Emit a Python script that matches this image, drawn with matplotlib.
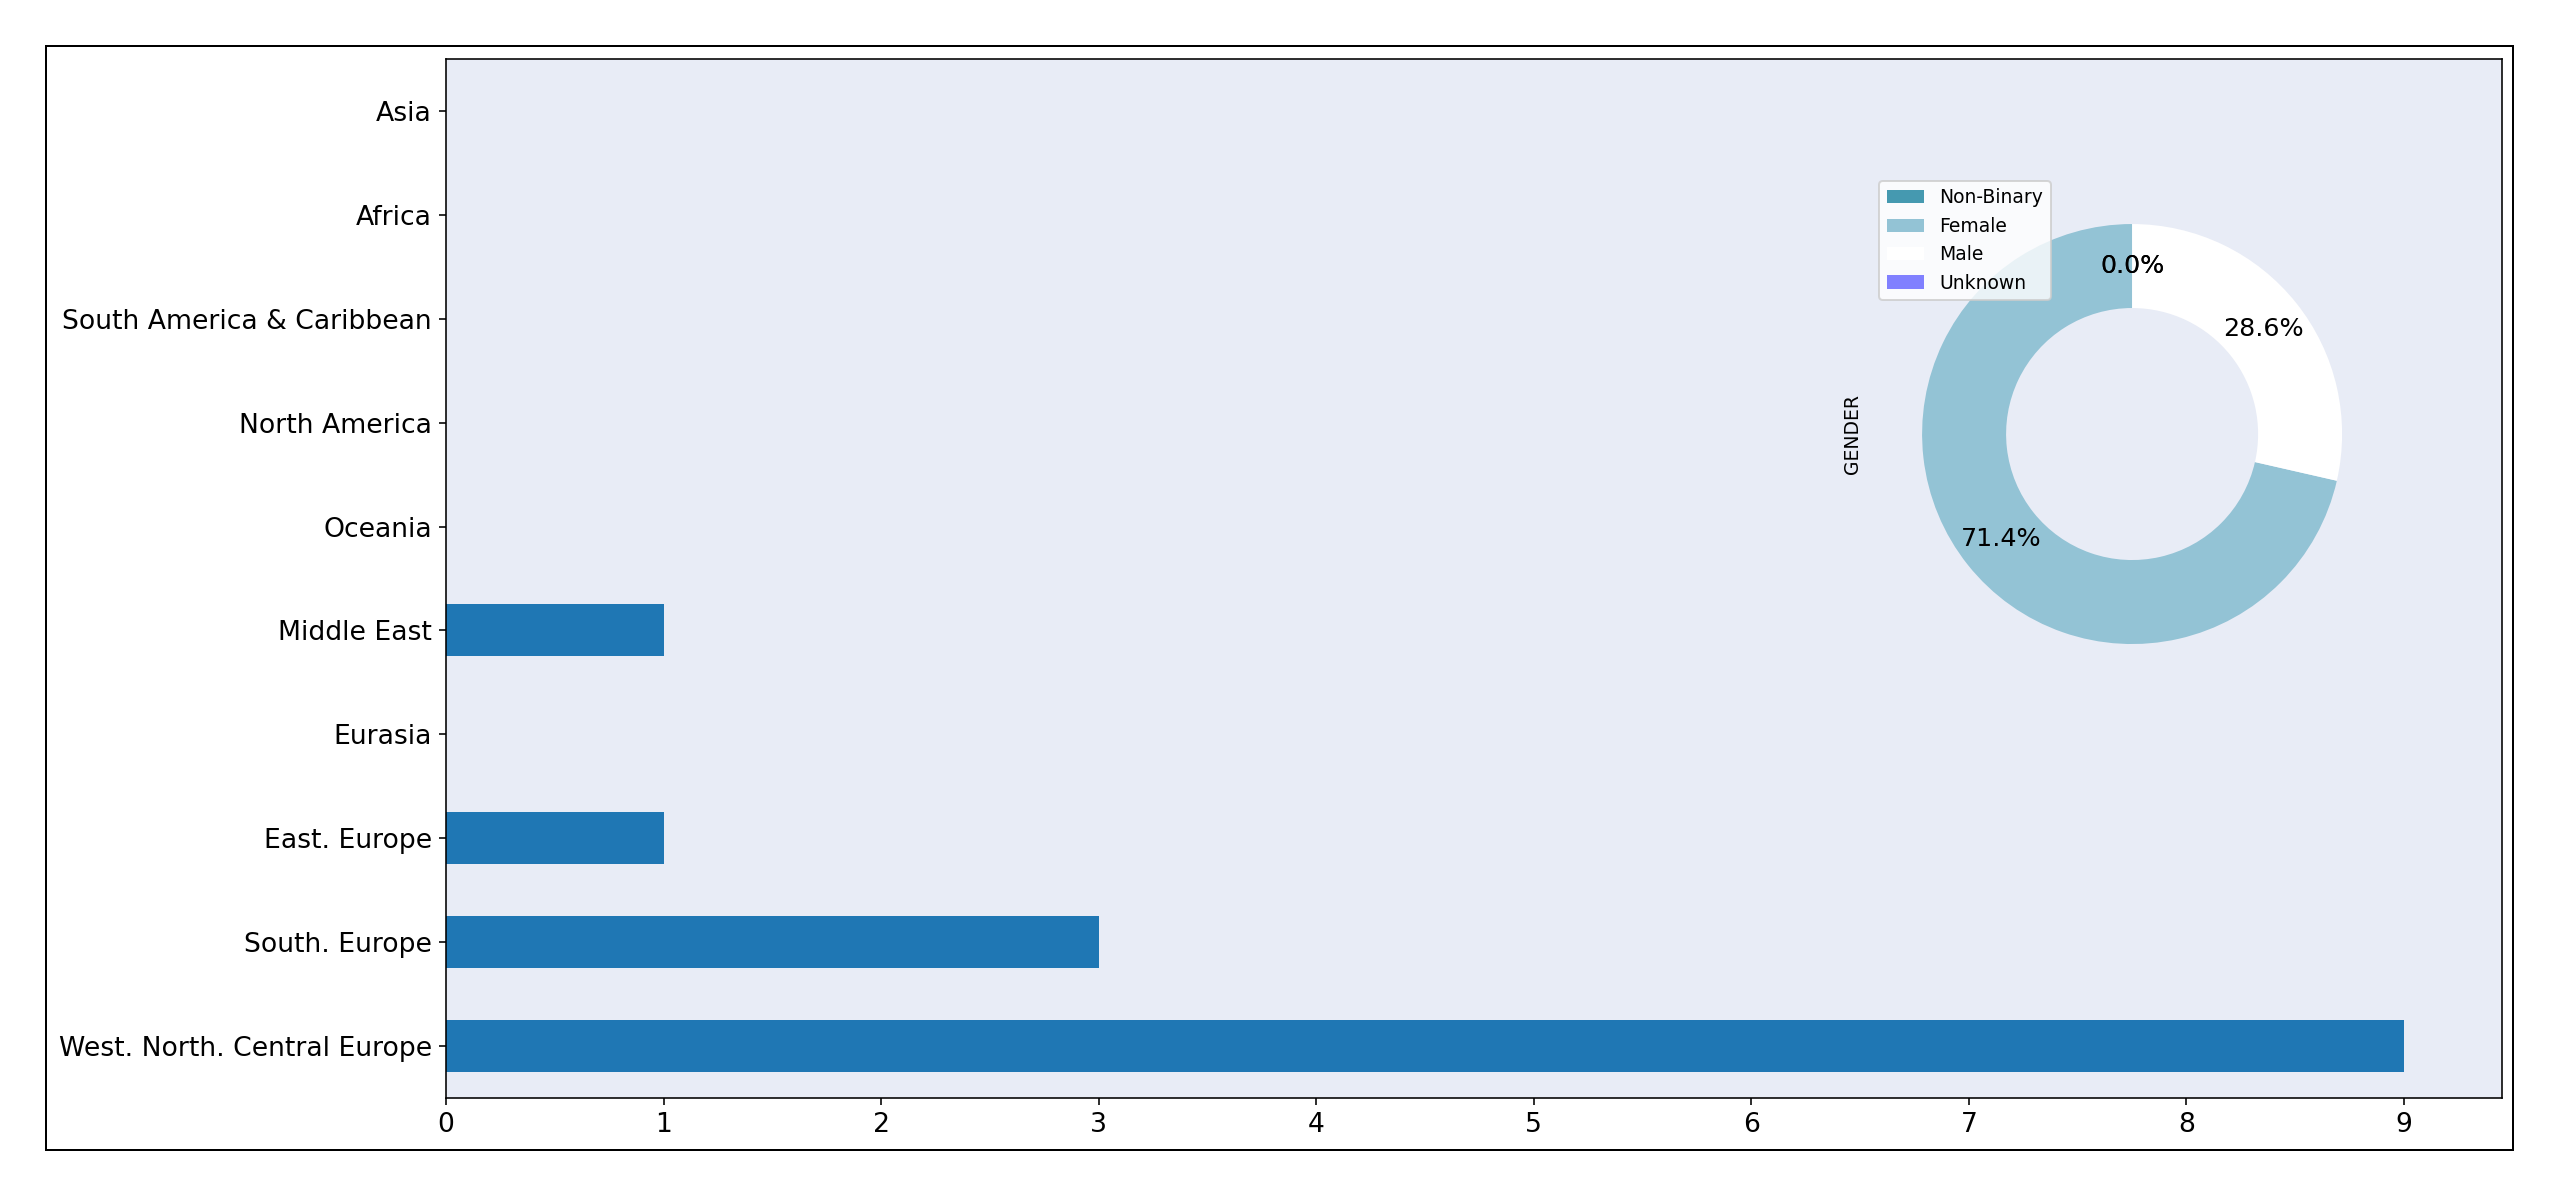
import numpy as np
import matplotlib
matplotlib.use("Agg")
import matplotlib.pyplot as plt
from matplotlib.patches import Rectangle

# region counts (bottom to top)
regions = ["West. North. Central Europe", "South. Europe", "East. Europe", "Eurasia",
           "Middle East", "Oceania", "North America", "South America & Caribbean",
           "Africa", "Asia"]
region_counts = [9, 3, 1, 0, 1, 0, 0, 0, 0, 0]

# gender split
genders = ["Non-Binary", "Female", "Male", "Unknown"]
gender_counts = [0, 5, 2, 0]
gender_colors = ["#4599b0", "#93c3d5", "#ffffff", "#8080ff"]

dpi = 144
fig = plt.figure(figsize=(2560 / dpi, 1197 / dpi), dpi=dpi)

ax = fig.add_axes([0.1742, 0.0827, 0.8031, 0.868])
ax.set_facecolor("#e8ecf6")
y = np.arange(len(regions))
ax.barh(y, region_counts, height=0.5, color="#1f77b4")
ax.set_yticks(y)
ax.set_yticklabels(regions, fontsize=13.3)
ax.set_ylim(-0.5, len(regions) - 0.5)
ax.set_xlim(0, max(region_counts) * 1.05)
ax.set_xticks(range(0, max(region_counts) + 1))
ax.tick_params(axis="x", labelsize=13.3)

# donut inset
pax = fig.add_axes([0.7303, 0.4181, 0.2051, 0.4386])
pax.set_facecolor("none")
wedges, _, autotexts = pax.pie(gender_counts, colors=gender_colors, startangle=90,
                               autopct="%1.1f%%", pctdistance=0.8,
                               wedgeprops=dict(width=0.4),
                               textprops=dict(fontsize=12.7))
pax.set_ylabel("GENDER", fontsize=9.4)
pax.legend(wedges, genders, loc="upper left", fontsize=9.4)

# outer frame
fig.add_artist(Rectangle((0.01797, 0.0393), 0.9816 - 0.01797, 0.9616 - 0.0393,
                         transform=fig.transFigure, fill=False, lw=1.0, ec="black"))

fig.savefig("out.png", dpi=dpi)
